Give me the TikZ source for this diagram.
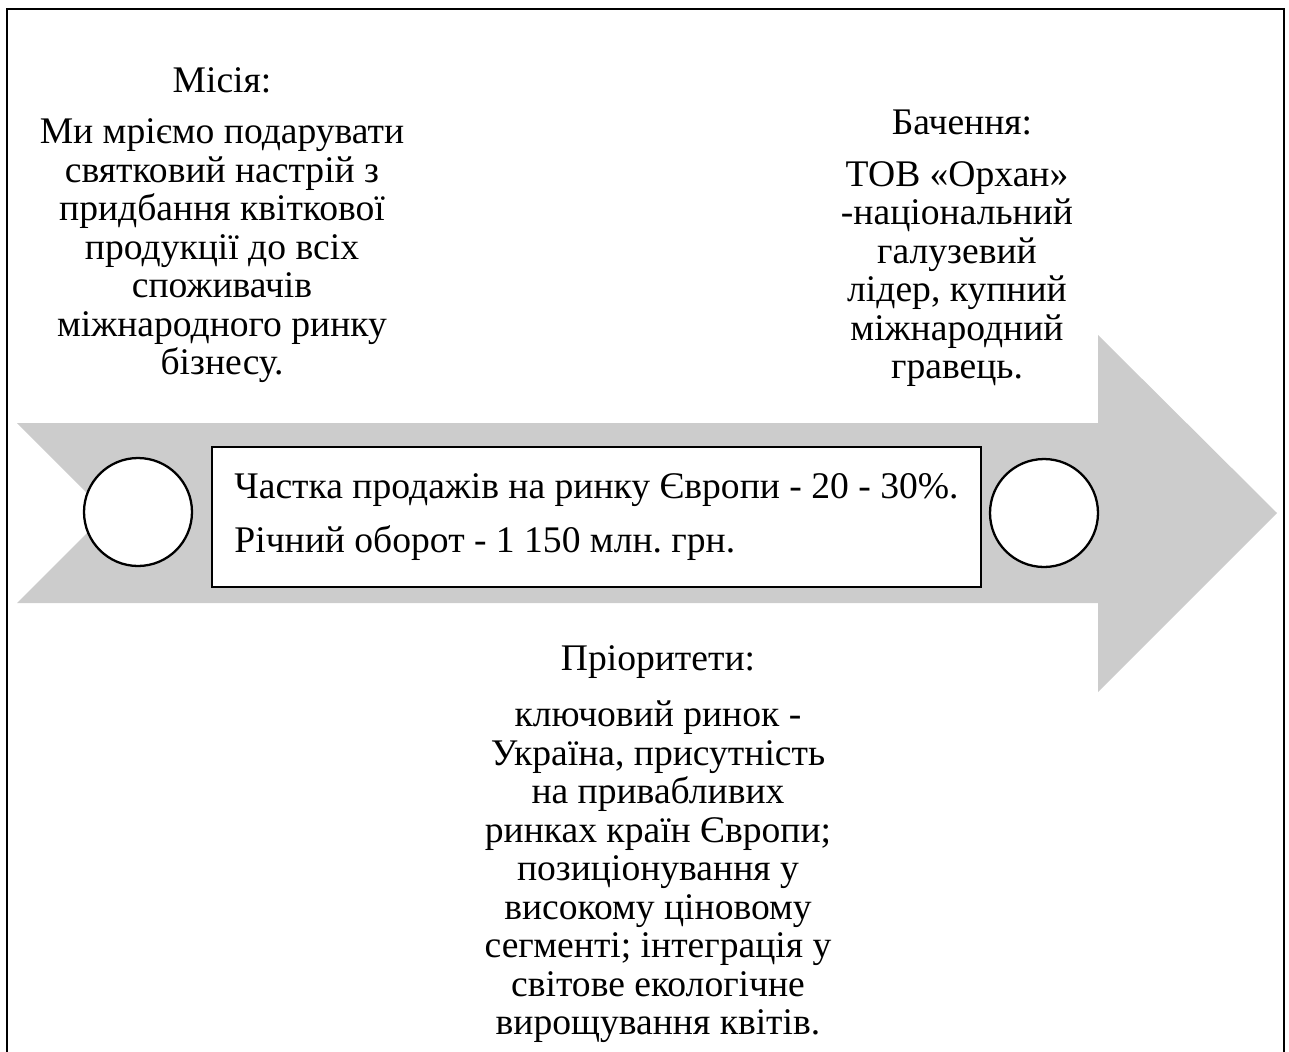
\documentclass[tikz,border=0pt]{standalone}
\usepackage{fontspec}
\setmainfont{Liberation Serif}
\frenchspacing
\usetikzlibrary{positioning}
\tikzset{
	marker/.style={draw, circle, line width=1.3pt, fill=white, minimum size=2.16cm, inner sep=0pt},
	stat/.style={draw, rectangle, line width=1.1pt, fill=white, minimum width=15.38cm, minimum height=2.8cm, inner xsep=0.42cm, align=left, font=\fontsize{21.4}{30.5}\selectfont},
	heading/.style={font=\fontsize{21.4}{21.9}\selectfont},
	blurb/.style={align=center, font=\fontsize{21.4}{21.9}\selectfont},
}

\begin{document}
\begin{tikzpicture}[x=0.02cm, y=-0.02cm]
		\useasboundingbox (0,0) rectangle (1289,1052);
		% frame, open at the bottom
		\draw[line width=1.1pt] (7,1052) -- (7,9) -- (1284,9) -- (1284,1052);
		
		% big arrow
		\fill[black!20] (17,423) -- (1098,423) -- (1098,335) -- (1277,513) -- (1098,692) -- (1098,603) -- (17,603) -- (107,513) -- cycle;
		
		\node (start) [marker] at (138,512) {};
		\node (goal) [marker] at (1044,513) {};
		\node (share) [stat] at (596.5,517) {Частка продажів на ринку Європи - 20 - 30\%.\\Річний оборот - 1 150 млн. грн.};
		
		\node (missionhead) [heading] at (222,80) {Місія:};
		\node (mission) [blurb] at (222,251) {Ми мріємо подарувати\\святковий настрій з\\придбання квіткової\\продукції до всіх\\споживачів\\міжнародного ринку\\бізнесу.};
		
		\node (visionhead) [heading] at (962,122) {Бачення:};
		\node (vision) [blurb] at (957,274) {ТОВ «Орхан»\\-національний\\галузевий\\лідер, купний\\міжнародний\\гравець.};
		
		\node (priohead) [heading] at (658,662) {Пріоритети:};
		\node (prio) [blurb] at (658,872) {ключовий ринок -\\Україна, присутність\\на привабливих\\ринках країн Європи;\\позиціонування у\\високому ціновому\\сегменті; інтеграція у\\світове екологічне\\вирощування квітів.};
	\end{tikzpicture}
\end{document}
